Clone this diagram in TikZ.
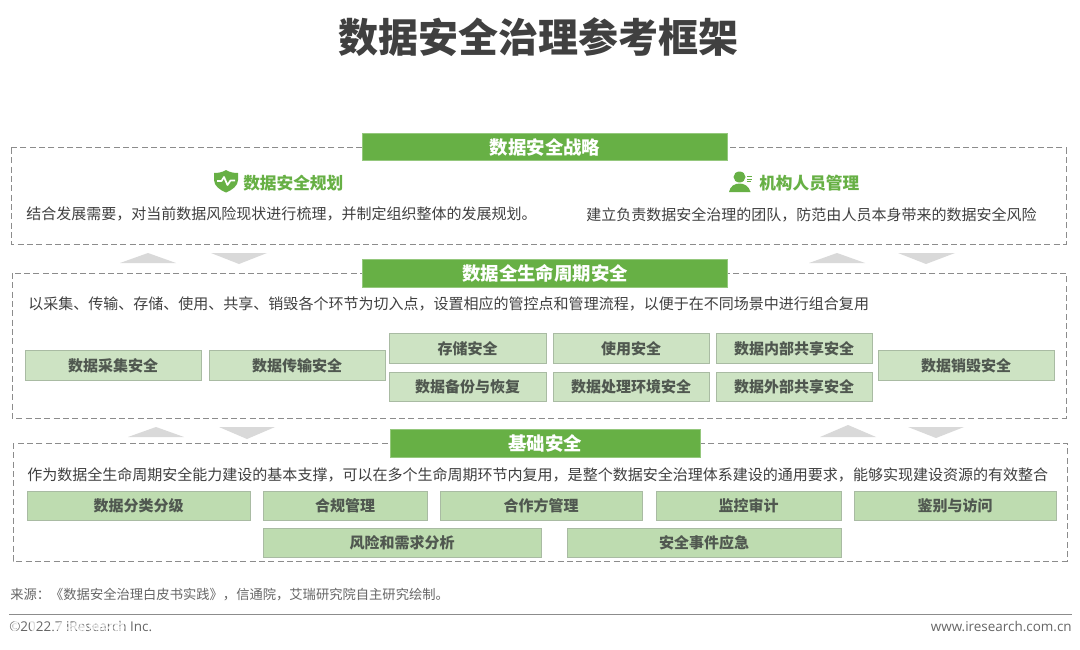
\documentclass[tikz,border=0pt]{standalone}
\usepackage{fontspec}
\setmainfont{Noto Sans CJK SC}
\newfontfamily\latinfont{Open Sans}
\definecolor{hgreen}{HTML}{67B045}
\definecolor{boxfill}{HTML}{CDE3C3}
\definecolor{boxline}{HTML}{A9BBA3}
\definecolor{boxfillb}{HTML}{BEDCB0}
\definecolor{tritone}{HTML}{D9D9D9}
\definecolor{dashc}{HTML}{8C8C8C}
\definecolor{bodyc}{HTML}{404040}
\definecolor{labelc}{HTML}{505850}
\tikzset{
  x=0.75pt,y=-0.75pt,
  dashbox/.style={draw=dashc,line width=0.75pt,dash pattern=on 4.5pt off 2.5pt},
  hbox/.style={fill=hgreen,draw=hgreen!70!white,line width=0.4pt},
  hlabel/.style={text=white,font=\fontsize{13.8}{16}\selectfont\bfseries,inner sep=0pt},
  lbox/.style={fill=boxfill,draw=boxline,line width=0.5pt},
  lboxb/.style={fill=boxfillb,draw=boxline,line width=0.5pt},
  boxlabel/.style={text=labelc,font=\fontsize{11.25}{14}\selectfont\bfseries,inner sep=0pt},
  desc/.style={text=bodyc,font=\fontsize{11.26}{14}\selectfont,inner sep=0pt,anchor=west},
  sub/.style={text=hgreen,font=\fontsize{12.5}{15}\selectfont\bfseries,inner sep=0pt},
  tri/.style={fill=tritone,draw=none},
  footlatin/.style={inner sep=0pt,text=black!60,font=\latinfont\fontsize{10.1}{12}\selectfont},
}
\newcommand{\lb}[7][lbox]{%
  \path[#1] (#3,#4) rectangle ({#5-0.6},{#6-0.4});
  \node[boxlabel] (#2) at ({(#3+#5)/2-0.3},{(#4+#6)/2}) {#7};
}
\begin{document}
\begin{tikzpicture}
\useasboundingbox (0,0) rectangle (1080,649);
\fill[white] (0,0) rectangle (1080,649);
\node[inner sep=0pt,text=bodyc,font=\fontsize{30}{36}\selectfont\bfseries] (title) at (538.5,37) {数据安全治理参考框架};

% dashed frames
\draw[dashbox] (11,148) rectangle (1066,244);
\draw[dashbox] (12,273) rectangle (1066,418);
\draw[dashbox] (13,443) rectangle (1067,561);

% headers
\path[hbox] (362,133) rectangle (727.4,160);
\node[hlabel] (h1) at (545,147) {数据安全战略};
\path[hbox] (362,259) rectangle (727.4,287);
\node[hlabel] (h2) at (545,273.5) {数据全生命周期安全};
\path[hbox] (390,429) rectangle (700.4,457);
\node[hlabel] (h3) at (545,443.5) {基础安全};

% shield icon
\fill[hgreen] (226,170) .. controls (222,172.5) and (218,173) .. (214,173) -- (214,180) .. controls (214,186) and (220,190) .. (226,192.5) .. controls (232,190) and (238,186) .. (238,180) -- (238,173) .. controls (234,173) and (230,172.5) .. (226,170) -- cycle;
\draw[white,line width=1.3pt,line join=round] (217,181) -- (221.5,181) -- (224,177) -- (227.5,185) -- (230.5,180.5) -- (235,180.5);
\node[sub,anchor=west] (s1) at (243,183) {数据安全规划};

% person icon
\fill[hgreen] (739.5,177) ellipse (6 and 5.5);
\fill[hgreen] (729,192) .. controls (730,186) and (735,183.5) .. (739.5,183.5) .. controls (744,183.5) and (749,186) .. (750.5,192) -- cycle;
\draw[hgreen,line width=0.6pt] (747,176.5) -- (752,176.5) (747,179) -- (752,179) (747,181.5) -- (751,181.5);
\node[sub,anchor=west] (s2) at (759,183) {机构人员管理};

\node[desc] (d1) at (26,214) {结合发展需要，对当前数据风险现状进行梳理，并制定组织整体的发展规划。};
\node[desc] (d2) at (586,215) {建立负责数据安全治理的团队，防范由人员本身带来的数据安全风险};
\node[desc] (d3) at (28,304) {以采集、传输、存储、使用、共享、销毁各个环节为切入点，设置相应的管控点和管理流程，以便于在不同场景中进行组合复用};
\node[desc] (d4) at (27,475) {作为数据全生命周期安全能力建设的基本支撑，可以在多个生命周期环节内复用，是整个数据安全治理体系建设的通用要求，能够实现建设资源的有效整合};

% triangles
\fill[tri] (120,263) -- (176,263) -- (148,253) -- cycle;
\fill[tri] (211,253) -- (267,253) -- (239,264) -- cycle;
\fill[tri] (809,263) -- (865,263) -- (837,253) -- cycle;
\fill[tri] (898,253) -- (955,253) -- (926,264) -- cycle;
\fill[tri] (128,437) -- (184,437) -- (156,427) -- cycle;
\fill[tri] (219,427) -- (275,427) -- (247,439) -- cycle;
\fill[tri] (820,437) -- (876,437) -- (848,425) -- cycle;
\fill[tri] (908,427) -- (964,427) -- (936,438) -- cycle;

% lifecycle boxes
\lb{a1}{25}{350}{202}{381}{数据采集安全}
\lb{a2}{209}{350}{386}{381}{数据传输安全}
\lb{a3}{389}{333}{547}{364}{存储安全}
\lb{a4}{389}{372}{547}{402}{数据备份与恢复}
\lb{a5}{553}{333}{710}{364}{使用安全}
\lb{a6}{553}{372}{710}{402}{数据处理环境安全}
\lb{a7}{716}{333}{873}{364}{数据内部共享安全}
\lb{a8}{716}{372}{873}{402}{数据外部共享安全}
\lb{a9}{878}{350}{1055}{381}{数据销毁安全}

% foundation boxes
\lb[lboxb]{b1}{27}{491}{251}{521}{数据分类分级}
\lb[lboxb]{b2}{263}{491}{428}{521}{合规管理}
\lb[lboxb]{b3}{440}{491}{643}{521}{合作方管理}
\lb[lboxb]{b4}{656}{491}{842}{521}{监控审计}
\lb[lboxb]{b5}{854}{491}{1057}{521}{鉴别与访问}
\lb[lboxb]{b6}{263}{528}{542}{558}{风险和需求分析}
\lb[lboxb]{b7}{567}{528}{842}{558}{安全事件应急}

% footer
\node[inner sep=0pt,anchor=west,text=black!60,font=\fontsize{9.97}{12}\selectfont] (src) at (10,595) {来源：《数据安全治理白皮书实践》，信通院，艾瑞研究院自主研究绘制。};
\coordinate (r1) at (9,614.5);
\coordinate (r2) at (1072,614.5);
\draw[black!45,line width=0.75pt] (r1) -- (r2);
\node[footlatin,anchor=west] (cr) at (9,626) {©2022.7 iResearch Inc.};
\node[footlatin,anchor=east] (web) at (1072,626) {www.iresearch.com.cn};

% watermark over the copyright line
\draw[white,opacity=0.75,line width=2.6pt] (24,628) circle (10);
\node[inner sep=0pt,anchor=west,text=white,opacity=0.75,font=\fontsize{14}{16}\selectfont\bfseries] (wm) at (51,631) {大数跨境};
\end{tikzpicture}
\end{document}
